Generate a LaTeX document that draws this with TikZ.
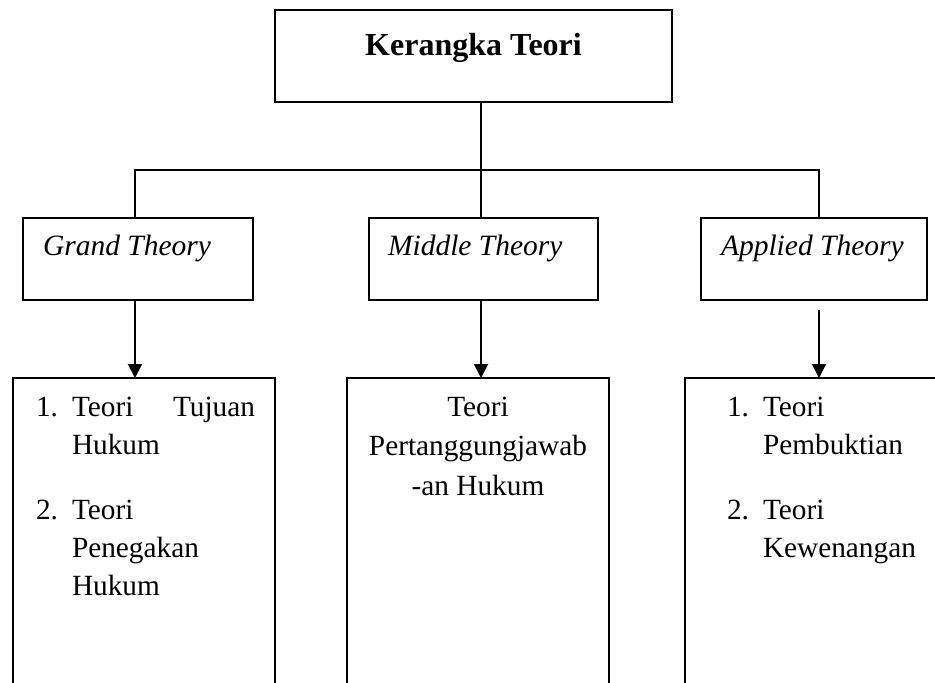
\documentclass[tikz,border=0pt]{standalone}
\usepackage{fontspec}
\setmainfont{Liberation Serif}
\usetikzlibrary{arrows.meta}
\tikzset{
  box/.style={draw=black, line width=2pt, rectangle, inner sep=0pt, outer sep=0pt},
  conn/.style={draw=black, line width=2pt},
  arr/.style={conn, -{Triangle[length=14pt,width=14pt]}},
  txt/.style={inner sep=0pt, outer sep=0pt, font=\fontsize{29.3}{35}\selectfont},
  ital/.style={inner sep=0pt, outer sep=0pt, font=\itshape\fontsize{29.5}{35}\selectfont, anchor=base west},
}
\begin{document}
\begin{tikzpicture}[x=1pt, y=-1pt]
\useasboundingbox (0,0) rectangle (935,683);
\clip (0,0) rectangle (935,683);
% top box
\node[box, minimum width=397pt, minimum height=92pt] (top) at (473.5,56) {};
\node[inner sep=0pt, font=\bfseries\fontsize{32}{38}\selectfont, anchor=base] (toptxt) at (473.5,55) {Kerangka Teori};
% second row
\node[box, minimum width=230pt, minimum height=82pt] (grand) at (138,259) {};
\node[box, minimum width=229pt, minimum height=82pt] (mid) at (483.5,259) {};
\node[box, minimum width=226pt, minimum height=82pt] (appl) at (814,259) {};
\node[ital] (grandtxt) at (43,255) {Grand Theory};
\node[ital] (midtxt) at (388,255) {Middle Theory};
\node[ital] (appltxt) at (721,255) {Applied Theory};
% third row (open at bottom)
\node[box, minimum width=262pt, minimum height=340pt] (gl) at (144,548) {};
\node[box, minimum width=262pt, minimum height=340pt] (ml) at (478,548) {};
\node[box, minimum width=290pt, minimum height=340pt] (al) at (830,548) {};
% junction coordinates
\coordinate (jl) at (135,170);
\coordinate (jm) at (481,170);
\coordinate (jr) at (819,170);
% connectors
\draw[conn] (top.south -| jm) -- (mid.north -| jm);
\draw[conn] (grand.north -| jl) -- (jl) -- (jr) -- (appl.north -| jr);
\draw[arr] (grand.south -| jl) -- (gl.north -| jl);
\draw[arr] (mid.south -| jm) -- (ml.north -| jm);
\draw[arr] ([yshift=-10pt]appl.south -| jr) -- (al.north -| jr);
% grand texts
\node[txt, anchor=base west] (g1n) at (36,416) {1.};
\node[txt, anchor=base west] (g1a) at (72,416) {Teori};
\node[txt, anchor=base east] (g1b) at (255,416) {Tujuan};
\node[txt, anchor=base west] (g1c) at (72,454) {Hukum};
\node[txt, anchor=base west] (g2n) at (36,519) {2.};
\node[txt, anchor=base west] (g2a) at (72,519) {Teori};
\node[txt, anchor=base west] (g2b) at (72,557) {Penegakan};
\node[txt, anchor=base west] (g2c) at (72,595) {Hukum};
% middle texts
\node[txt, anchor=base] (m1) at (478,416) {Teori};
\node[txt, anchor=base] (m2) at (478,455.5) {Pertanggungjawab};
\node[txt, anchor=base] (m3) at (478,495) {-an Hukum};
% applied texts
\node[txt, anchor=base west] (a1n) at (727,416) {1.};
\node[txt, anchor=base west] (a1a) at (763,416) {Teori};
\node[txt, anchor=base west] (a1b) at (763,454) {Pembuktian};
\node[txt, anchor=base west] (a2n) at (727,519) {2.};
\node[txt, anchor=base west] (a2a) at (763,519) {Teori};
\node[txt, anchor=base west] (a2b) at (763,557) {Kewenangan};
\end{tikzpicture}
\end{document}
